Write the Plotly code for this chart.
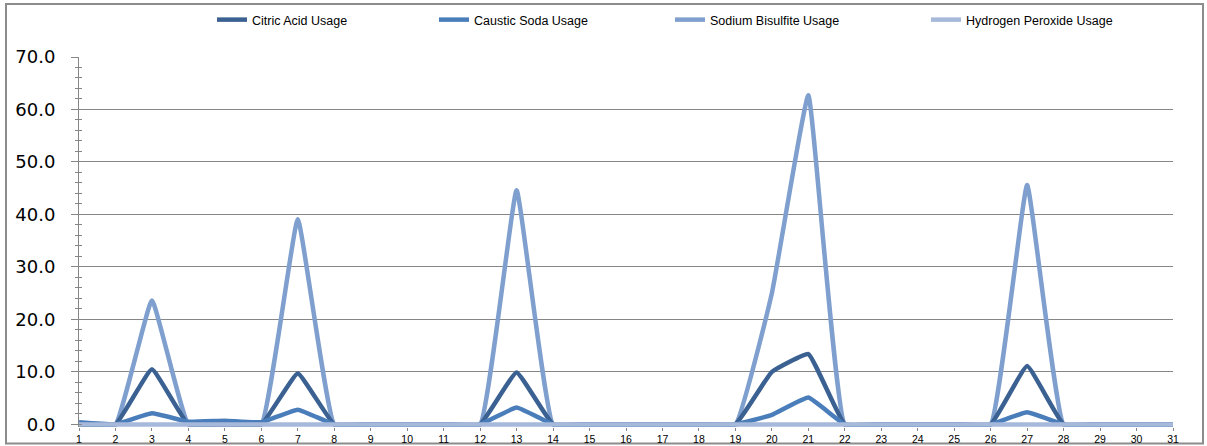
import plotly.graph_objects as go

days = list(range(1, 32))

citric_acid = [0, 0, 10.5, 0, 0, 0, 9.7, 0, 0, 0, 0, 0, 9.9, 0, 0, 0, 0, 0, 0, 10.0, 13.4, 0,
               0, 0, 0, 0, 11.1, 0, 0, 0, 0]
caustic_soda = [0.4, 0, 2.1, 0.5, 0.7, 0.4, 2.8, 0, 0, 0, 0, 0, 3.2, 0, 0, 0, 0, 0, 0, 1.8, 5.1, 0,
                0, 0, 0, 0, 2.3, 0, 0, 0, 0]
sodium_bisulfite = [0, 0, 23.6, 0, 0, 0, 39.1, 0, 0, 0, 0, 0, 44.6, 0, 0, 0, 0, 0, 0, 25.0, 62.7, 0,
                    0, 0, 0, 0, 45.6, 0, 0, 0, 0]
hydrogen_peroxide = [0] * 31

series = [
    ("Citric Acid Usage", citric_acid, "#3A6191", "legend"),
    ("Caustic Soda Usage", caustic_soda, "#4A7EBB", "legend2"),
    ("Sodium Bisulfite Usage", sodium_bisulfite, "#7F9FCE", "legend3"),
    ("Hydrogen Peroxide Usage", hydrogen_peroxide, "#A7B9DA", "legend4"),
]

fig = go.Figure()
order = [2, 0, 1, 3]
for i in order:
    name, vals, col, lg = series[i]
    fig.add_trace(go.Scatter(
        x=days, y=vals, name=name, mode="lines",
        line=dict(color=col, width=4.5, shape="spline", smoothing=0.3),
        legend=lg, showlegend=True,
    ))

W, H = 1207, 446
L, R, T = 79, 34, 57
ZERO_PX = 424
unit_px = (ZERO_PX - T) / 70.0
YMIN = -0.5
B = H - (ZERO_PX - YMIN * unit_px)
pw, ph = W - L - R, H - T - B

def px_x(p):
    return (p - L) / pw

def px_y(p):
    return (H - B - p) / ph

leg_text_x = [252, 474, 710, 966]
legends = {}
for k, tx in enumerate(leg_text_x):
    key = "legend" if k == 0 else f"legend{k+1}"
    legends[key] = dict(
        xref="container", yref="container",
        x=(tx - 40) / W, y=1 - 20 / H, xanchor="left", yanchor="middle",
        orientation="h", bgcolor="rgba(0,0,0,0)",
        font=dict(family="Liberation Sans", size=12.5, color="#000000"),
        itemwidth=30,
    )

fig.update_layout(
    width=W, height=H,
    margin=dict(l=L, r=R, t=T, b=B, pad=0, autoexpand=False),
    paper_bgcolor="white", plot_bgcolor="white",
    showlegend=True,
    xaxis=dict(
        range=[1, 31], tickmode="array", tickvals=days, ticktext=[str(d) for d in days],
        showgrid=False, zeroline=False, showline=False, automargin=False,
        ticks="outside", ticklen=3, tickcolor="#868686", ticklabelstandoff=-1,
        tickfont=dict(family="Liberation Sans", size=10.5, color="#000000"),
    ),
    yaxis=dict(
        range=[YMIN, 70], tickmode="linear", tick0=0, dtick=10, tickformat=".1f",
        showgrid=True, gridcolor="#868686", gridwidth=1, automargin=False,
        zeroline=False, showline=True, linecolor="#868686", linewidth=1,
        ticks="outside", ticklen=7, tickcolor="#868686", ticklabelstandoff=12,
        minor=dict(ticks="outside", ticklen=3, tick0=0, dtick=2, tickcolor="#868686", showgrid=False),
        tickfont=dict(family="DejaVu Sans", size=18, color="#000000"),
    ),
    yaxis2=dict(
        range=[YMIN, 70], overlaying="y", side="left", showgrid=False, zeroline=False,
        showticklabels=False, tickmode="linear", tick0=0, dtick=2, automargin=False,
        ticks="inside", ticklen=3, tickcolor="#868686",
    ),
    **legends,
)

fig.add_trace(go.Scatter(x=[1], y=[0], yaxis="y2", mode="markers",
                         marker=dict(opacity=0), showlegend=False, hoverinfo="skip"))

fig.add_shape(type="rect", xref="paper", yref="paper",
              x0=px_x(6), x1=px_x(1203), y0=px_y(443), y1=px_y(4),
              line=dict(color="#8C8C8C", width=2), fillcolor="rgba(0,0,0,0)", layer="below")

fig.write_html("out.html", config={"displayModeBar": False},
               post_script="document.body.style.margin='0';")
